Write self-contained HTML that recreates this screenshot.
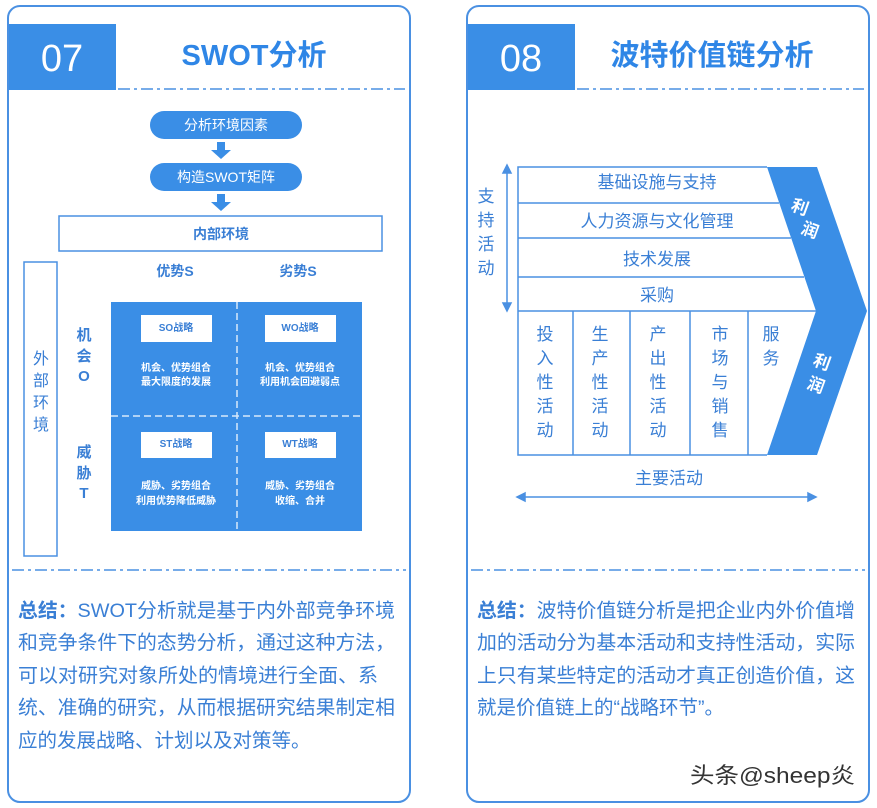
<!DOCTYPE html>
<html><head><meta charset="utf-8"><style>
html,body{margin:0;padding:0;background:#fff;}
svg{display:block;}
text{font-family:"Liberation Sans","Noto Sans CJK SC",sans-serif;}
</style></head><body>
<svg width="877" height="808" viewBox="0 0 877 808" xmlns="http://www.w3.org/2000/svg">
<rect x="8" y="6" width="402" height="796" rx="12" fill="#fff" stroke="#4a90e2" stroke-width="2"/>
<rect x="467" y="6" width="402" height="796" rx="12" fill="#fff" stroke="#4a90e2" stroke-width="2"/>
<rect x="9" y="24" width="107" height="66" fill="#3a8ee6"/>
<text x="62" y="71" font-size="38" fill="#fff" text-anchor="middle">07</text>
<text x="254" y="65" font-size="29" font-weight="bold" fill="#2f86e6" text-anchor="middle">SWOT分析</text>
<rect x="468" y="24" width="107" height="66" fill="#3a8ee6"/>
<text x="521" y="71" font-size="38" fill="#fff" text-anchor="middle">08</text>
<text x="712" y="65" font-size="29" font-weight="bold" fill="#2f86e6" text-anchor="middle">波特价值链分析</text>
<g stroke="#4a90e2" stroke-width="1.5" stroke-dasharray="12,4,3,4" fill="none">
<line x1="118" y1="89" x2="405" y2="89"/>
<line x1="577" y1="89" x2="864" y2="89"/>
<line x1="12" y1="570" x2="406" y2="570"/>
<line x1="471" y1="570" x2="865" y2="570"/>
</g>
<rect x="150" y="111" width="152" height="28" rx="14" fill="#3a8ee6"/>
<text x="226" y="130" font-size="14" fill="#fff" text-anchor="middle">分析环境因素</text>
<rect x="150" y="163" width="152" height="28" rx="14" fill="#3a8ee6"/>
<text x="226" y="182" font-size="14" fill="#fff" text-anchor="middle">构造SWOT矩阵</text>
<path d="M217 142h8v8h6l-10 9-10-9h6z" fill="#3a8ee6"/>
<path d="M217 194h8v8h6l-10 9-10-9h6z" fill="#3a8ee6"/>
<rect x="59" y="216" width="323" height="35" fill="#fff" stroke="#4a90e2" stroke-width="1.5"/>
<text x="221" y="239" font-size="14" font-weight="bold" fill="#3a7fd5" text-anchor="middle">内部环境</text>
<text x="175" y="276" font-size="14" font-weight="bold" fill="#3a7fd5" text-anchor="middle">优势S</text>
<text x="298" y="276" font-size="14" font-weight="bold" fill="#3a7fd5" text-anchor="middle">劣势S</text>
<rect x="24" y="262" width="33" height="294" fill="#fff" stroke="#4a90e2" stroke-width="1.5"/>
<g font-size="16" fill="#3a7fd5" text-anchor="middle">
<text x="41" y="364">外</text><text x="41" y="386">部</text><text x="41" y="408">环</text><text x="41" y="430">境</text>
</g>
<g font-size="15" font-weight="bold" fill="#3a7fd5" text-anchor="middle">
<text x="84" y="340">机</text><text x="84" y="361">会</text><text x="84" y="381">O</text>
<text x="84" y="457">威</text><text x="84" y="478">胁</text><text x="84" y="498">T</text>
</g>
<rect x="111" y="302" width="251" height="229" fill="#3a8ee6"/>
<g stroke="#fff" stroke-width="1.5" stroke-dasharray="7,4" opacity="0.8">
<line x1="237" y1="302" x2="237" y2="531"/>
<line x1="111" y1="416" x2="362" y2="416"/>
</g>
<g fill="#fff">
<rect x="141" y="315" width="71" height="27"/><rect x="265" y="315" width="71" height="27"/>
<rect x="141" y="432" width="71" height="26"/><rect x="265" y="432" width="71" height="26"/>
</g>
<g font-size="10" font-weight="bold" fill="#3a7fd5" text-anchor="middle">
<text x="176" y="331">SO战略</text><text x="300" y="331">WO战略</text>
<text x="176" y="447">ST战略</text><text x="300" y="447">WT战略</text>
</g>
<g font-size="10" font-weight="bold" fill="#fff" text-anchor="middle">
<text x="176" y="371">机会、优势组合</text><text x="176" y="385">最大限度的发展</text>
<text x="300" y="371">机会、优势组合</text><text x="300" y="385">利用机会回避弱点</text>
<text x="176" y="489">威胁、劣势组合</text><text x="176" y="504">利用优势降低威胁</text>
<text x="300" y="489">威胁、劣势组合</text><text x="300" y="504">收缩、合并</text>
</g>
<path d="M767 167H817L867 311L817 455H767L816 311Z" fill="#3a8ee6"/>
<g stroke="#4a90e2" stroke-width="1.5" fill="none">
<path d="M767 167H518V455H767"/>
<line x1="518" y1="203" x2="779" y2="203"/>
<line x1="518" y1="238" x2="791" y2="238"/>
<line x1="518" y1="277" x2="804" y2="277"/>
<line x1="518" y1="311" x2="816" y2="311"/>
<line x1="573" y1="311" x2="573" y2="455"/>
<line x1="630" y1="311" x2="630" y2="455"/>
<line x1="690" y1="311" x2="690" y2="455"/>
<line x1="748" y1="311" x2="748" y2="455"/>
</g>
<g font-size="17" fill="#3a7fd5" text-anchor="middle">
<text x="657" y="188">基础设施与支持</text>
<text x="657" y="227">人力资源与文化管理</text>
<text x="657" y="265">技术发展</text>
<text x="657" y="301">采购</text>
<text x="545" y="340">投</text><text x="545" y="364">入</text><text x="545" y="388">性</text><text x="545" y="412">活</text><text x="545" y="436">动</text>
<text x="600" y="340">生</text><text x="600" y="364">产</text><text x="600" y="388">性</text><text x="600" y="412">活</text><text x="600" y="436">动</text>
<text x="658" y="340">产</text><text x="658" y="364">出</text><text x="658" y="388">性</text><text x="658" y="412">活</text><text x="658" y="436">动</text>
<text x="720" y="340">市</text><text x="720" y="364">场</text><text x="720" y="388">与</text><text x="720" y="412">销</text><text x="720" y="436">售</text>
<text x="771" y="340">服</text><text x="771" y="364">务</text>
<text x="486" y="202">支</text><text x="486" y="226">持</text><text x="486" y="250">活</text><text x="486" y="274">动</text>
<text x="669" y="484">主要活动</text>
</g>
<g font-size="17" font-weight="bold" fill="#fff" text-anchor="middle">
<text x="800" y="213" transform="rotate(20 800 207)">利</text>
<text x="810" y="236" transform="rotate(20 810 230)">润</text>
<text x="822" y="368" transform="rotate(20 822 362)">利</text>
<text x="816" y="391" transform="rotate(20 816 385)">润</text>
</g>
<g stroke="#4a90e2" stroke-width="1.5" fill="#4a90e2">
<line x1="507" y1="170" x2="507" y2="306"/>
<path d="M503 173L507 165L511 173Z"/><path d="M503 303L507 311L511 303Z"/>
<line x1="522" y1="497" x2="811" y2="497"/>
<path d="M525 493L517 497L525 501Z"/><path d="M808 493L816 497L808 501Z"/>
</g>
<g font-size="19.5" fill="#3a7fd5">
<text x="18" y="617" textLength="377" lengthAdjust="spacingAndGlyphs"><tspan font-weight="bold">总结：</tspan>SWOT分析就是基于内外部竞争环境</text>
<text x="18" y="649" textLength="377" lengthAdjust="spacingAndGlyphs">和竞争条件下的态势分析，通过这种方法，</text>
<text x="18" y="682" textLength="360" lengthAdjust="spacingAndGlyphs">可以对研究对象所处的情境进行全面、系</text>
<text x="18" y="714" textLength="377" lengthAdjust="spacingAndGlyphs">统、准确的研究，从而根据研究结果制定相</text>
<text x="18" y="747">应的发展战略、计划以及对策等。</text>
<text x="477" y="617" textLength="378" lengthAdjust="spacingAndGlyphs"><tspan font-weight="bold">总结：</tspan>波特价值链分析是把企业内外价值增</text>
<text x="477" y="649" textLength="378" lengthAdjust="spacingAndGlyphs">加的活动分为基本活动和支持性活动，实际</text>
<text x="477" y="682" textLength="378" lengthAdjust="spacingAndGlyphs">上只有某些特定的活动才真正创造价值，这</text>
<text x="477" y="714">就是价值链上的“战略环节”。</text>
</g>
<text x="690" y="783" font-size="22" fill="#333" textLength="165" lengthAdjust="spacingAndGlyphs">头条@sheep炎</text>
</svg>
</body></html>
